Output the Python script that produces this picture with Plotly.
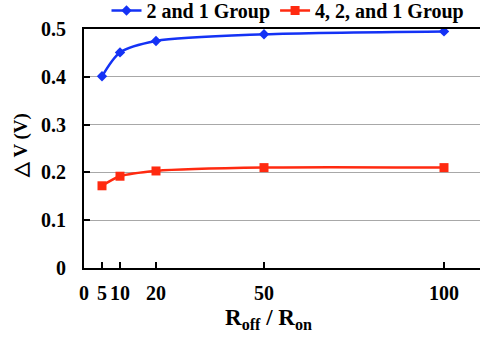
import plotly.graph_objects as go

ratio = [5, 10, 20, 50, 100]
dv_two_one = [0.401, 0.451, 0.475, 0.489, 0.495]
dv_four_two_one = [0.172, 0.192, 0.203, 0.210, 0.210]

x_ticks = [0, 5, 10, 20, 50, 100]
y_ticks = [0, 0.1, 0.2, 0.3, 0.4, 0.5]

serif = "Liberation Serif, Times New Roman, serif"
blue = "#1432f5"
red = "#ff2a10"

# plot-area height below the top margin; the axes occupy its lower part
area_h = 343 - 75
axes_top = 29

fig = go.Figure()
fig.add_trace(go.Scatter(
    x=ratio, y=dv_two_one, name="<b>2 and 1 Group</b>",
    mode="lines+markers", line=dict(color=blue, width=2.5, shape="spline", smoothing=0.8),
    marker=dict(symbol="diamond", size=8, color=blue),
))
fig.add_trace(go.Scatter(
    x=ratio, y=dv_four_two_one, name="<b>4, 2, and 1 Group</b>",
    mode="lines+markers", line=dict(color=red, width=2.5, shape="spline", smoothing=0.8),
    marker=dict(symbol="square", size=9, color=red),
))

fig.update_layout(
    width=484, height=343,
    margin=dict(l=84, r=4, t=0, b=75, autoexpand=False),
    paper_bgcolor="white", plot_bgcolor="white",
    font=dict(family=serif, size=20, color="black"),
    showlegend=True,
    legend=dict(orientation="h", x=0.5 + 6 / 396, xanchor="center",
                y=1 + 9 / area_h, yanchor="top",
                font=dict(size=20), itemwidth=30, tracegroupgap=0,
                bgcolor="rgba(0,0,0,0)"),
    xaxis=dict(
        range=[0, 110], tickvals=x_ticks,
        ticktext=[f"<b>{v}</b>" for v in x_ticks],
        showgrid=False, zeroline=False,
        showline=True, linecolor="black", linewidth=2, mirror=True,
        ticks="inside", ticklen=6, tickwidth=2, tickcolor="black",
        ticklabelstandoff=6,
    ),
    yaxis=dict(
        domain=[0, (area_h - axes_top) / area_h],
        range=[0, 0.5], tickvals=y_ticks,
        ticktext=["<b>0</b>"] + [f"<b>{v:.1f}</b>" for v in y_ticks[1:]],
        showgrid=True, gridcolor="#a8a8a8", gridwidth=1, zeroline=False,
        showline=True, linecolor="black", linewidth=2,
        ticks="inside", ticklen=6, tickwidth=2, tickcolor="black",
        ticklabelstandoff=12,
    ),
    annotations=[
        dict(text="<b>R<sub>off</sub> / R<sub>on</sub></b>", xref="paper", yref="paper",
             x=(268 - 84) / 396, y=-0.13, xanchor="center", yanchor="top",
             showarrow=False, font=dict(size=23)),
        dict(text="<b>△ V (V)</b>", xref="paper", yref="paper",
             x=(21 - 84) / 396, y=(268 - 146) / area_h, xanchor="center", yanchor="middle",
             textangle=-90, showarrow=False, font=dict(size=19)),
    ],
)

fig.write_html("out.html")
